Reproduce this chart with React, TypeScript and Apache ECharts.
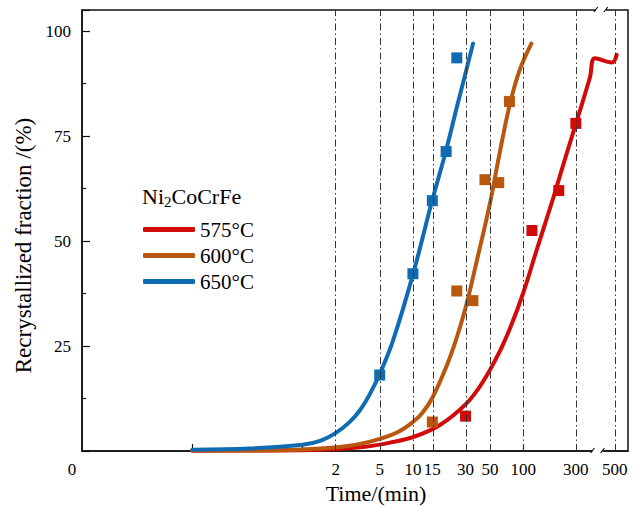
import React, { useEffect, useRef } from 'react';
import * as echarts from 'echarts';

const FONT = '"Liberation Serif", "Times New Roman", serif';

// x axis: log10(time), with an axis break between 455 and 470 min
const U_MIN = -2;
const U_MAX = 2.95;
const BREAK_T = 455;
const BREAK_SHIFT = 0.131;
const toU = (t: number) => (t <= BREAK_T ? Math.log10(t) : Math.log10(t) + BREAK_SHIFT);

const xTickTimes = [2, 5, 10, 15, 30, 50, 100, 300, 500];
const xTickLabels = ['2', '5', '10', '15', '30', '50', '100', '300', '500'];
const decadeTimes = [0.1, 1, 10, 100];

const seriesNames = ['575°C', '600°C', '650°C'];
const colors = ['#D10A0A', '#B9570E', '#0F6CB2'];

// fitted curves (time in min, fraction in %)
const curveT575 = [0.1, 1, 2.05, 3.68, 6.2, 10, 17.6, 30.3, 43.2, 60.7, 78, 99.6, 133, 186, 239, 307, 403, 448, 470, 520];
const curveY575 = [0.05, 0.2, 0.5, 1.0, 2.0, 3.3, 6.2, 11.2, 16.5, 23.5, 30, 37.5, 48, 60, 69.5, 78.7, 89, 93.5, 92.5, 94.3];
const curveT600 = [0.1, 0.62, 2.05, 3.31, 5.03, 7.18, 10, 12.1, 14.9, 20.4, 25.1, 30.3, 38.9, 50, 60.7, 74.8, 92.3, 118.6];
const curveY600 = [0.1, 0.2, 0.9, 1.7, 2.9, 4.4, 6.9, 9.0, 12.5, 20.5, 27.2, 34.5, 46.5, 59, 70.5, 82, 90.5, 97];
const curveT650 = [0.1, 0.333, 1, 1.44, 2.05, 2.69, 3.31, 4.08, 5.03, 6.6, 10, 14.9, 19.95, 25.1, 29.7, 35.1];
const curveY650 = [0.3, 0.6, 1.5, 2.4, 4.5, 7.0, 9.7, 13.6, 18.5, 26.3, 42, 59.5, 71.5, 82, 89.5, 97];

// measured points
const ptsT575 = [30, 120, 210, 300];
const ptsY575 = [8.3, 52.5, 62, 78];
const ptsT600 = [15, 25, 35, 45, 60, 75];
const ptsY600 = [6.9, 38.1, 35.8, 64.6, 63.9, 83.2];
const ptsT650 = [5, 10, 15, 20, 25];
const ptsY650 = [18.1, 42.2, 59.6, 71.3, 93.6];

const curvesT = [curveT575, curveT600, curveT650];
const curvesY = [curveY575, curveY600, curveY650];
const ptsT = [ptsT575, ptsT600, ptsT650];
const ptsY = [ptsY575, ptsY600, ptsY650];

const pair = (ts: number[], ys: number[]) => ts.map((t, i) => [toU(t), ys[i]]);

export default function App() {
  const ref = useRef<HTMLDivElement>(null);

  useEffect(() => {
    document.body.style.margin = '0';
    if (!ref.current) return;
    const chart = echarts.init(ref.current, undefined, { renderer: 'svg' });

    const lineSeries: any[] = seriesNames.map((name, i) => ({
      name,
      type: 'line',
      data: pair(curvesT[i], curvesY[i]),
      smooth: 0.4,
      symbol: 'none',
      showSymbol: false,
      z: 3,
      lineStyle: { color: colors[i], width: 4, cap: 'round', join: 'round' },
      itemStyle: { color: colors[i] },
    }));
    const scatterSeries: any[] = seriesNames.map((name, i) => ({
      name: name + ' data',
      type: 'scatter',
      data: pair(ptsT[i], ptsY[i]),
      symbol: 'rect',
      symbolSize: 11,
      z: 4,
      itemStyle: { color: colors[i], opacity: 1 },
    }));
    const refLines: any = {
      name: 'refLines',
      type: 'line',
      data: [],
      z: 1,
      markLine: {
        silent: true,
        symbol: 'none',
        label: { show: false },
        lineStyle: { color: '#333', width: 1, type: [7, 3, 1.5, 3] },
        data: xTickTimes.map((t) => ({ xAxis: toU(t) })),
      },
    };

    const labelValues = [U_MIN, ...xTickTimes.map(toU)];

    chart.setOption({
      animation: false,
      backgroundColor: '#fff',
      grid: {
        left: 82,
        right: 12,
        top: 10,
        bottom: 55,
        show: true,
        borderColor: '#111',
        borderWidth: 1.5,
        containLabel: false,
        outerBoundsMode: 'none',
      },
      legend: {
        data: seriesNames,
        orient: 'vertical',
        left: 138,
        top: 214,
        icon: 'roundRect',
        itemWidth: 52,
        itemHeight: 5,
        itemGap: 5,
        textStyle: { fontSize: 21, fontFamily: FONT, color: '#000', lineHeight: 21 },
      },
      xAxis: {
        type: 'value',
        min: U_MIN,
        max: U_MAX,
        splitLine: { show: false },
        axisLine: { show: true, onZero: false, lineStyle: { color: '#111', width: 1.5 } },
        axisTick: {
          show: true,
          inside: true,
          length: 7,
          customValues: decadeTimes.map(toU),
          lineStyle: { color: '#111', width: 1.2 },
        },
        axisLabel: {
          customValues: labelValues,
          fontSize: 17,
          fontFamily: FONT,
          color: '#000',
          margin: 10,
          formatter: (v: number) => {
            if (Math.abs(v - U_MIN) < 1e-6) return '{z|0}';
            let best = 0;
            let bd = Infinity;
            xTickTimes.forEach((t, i) => {
              const d = Math.abs(toU(t) - v);
              if (d < bd) {
                bd = d;
                best = i;
              }
            });
            return xTickLabels[best];
          },
          rich: {
            z: { fontSize: 17, fontFamily: FONT, color: '#000', padding: [0, 20, 0, 0] },
          },
        },
        name: 'Time/(min)',
        nameLocation: 'middle',
        nameGap: 31,
        nameTextStyle: { fontSize: 22, fontFamily: FONT, color: '#000', padding: [0, 0, 0, 42] },
      },
      yAxis: {
        type: 'value',
        min: 0,
        max: 105,
        interval: 25,
        splitLine: { show: false },
        axisLine: { show: true, onZero: false, lineStyle: { color: '#111', width: 1.5 } },
        axisTick: { show: true, inside: true, length: 8, lineStyle: { color: '#111', width: 1.2 } },
        minorTick: { show: true, splitNumber: 2, length: 4, lineStyle: { color: '#111', width: 1.2 } },
        axisLabel: {
          fontSize: 17,
          fontFamily: FONT,
          color: '#000',
          margin: 11,
          formatter: (v: number) => (v > 0 && v <= 100 && v % 25 === 0 ? String(v) : ''),
        },
        name: 'Recrystallized fraction /(%)',
        nameLocation: 'middle',
        nameGap: 37,
        nameTextStyle: { fontSize: 23, fontFamily: FONT, color: '#000', padding: [0, 30, 0, 0] },
      },
      series: [refLines, ...lineSeries, ...scatterSeries],
    });

    // legend title and axis-break marks
    const pTop = chart.convertToPixel({ gridIndex: 0 }, [toU(BREAK_T) + BREAK_SHIFT / 2 - 0.02, 105]) as number[];
    const pBot = chart.convertToPixel({ gridIndex: 0 }, [toU(BREAK_T) + BREAK_SHIFT / 2 - 0.05, 0]) as number[];
    const breakMark = (x: number, y: number) => [
      { type: 'rect', shape: { x: x - 5, y: y - 3, width: 10, height: 6 }, style: { fill: '#fff' }, z: 100 },
      { type: 'line', shape: { x1: x - 7, y1: y + 2, x2: x - 3, y2: y - 3 }, style: { stroke: '#111', lineWidth: 1.2 }, z: 101 },
      { type: 'line', shape: { x1: x + 3, y1: y + 2, x2: x + 7, y2: y - 3 }, style: { stroke: '#111', lineWidth: 1.2 }, z: 101 },
    ];
    chart.setOption({
      graphic: [
        {
          type: 'text',
          left: 142,
          top: 184,
          style: {
            text: '{m|Ni}{s|2}{m|CoCrFe}',
            rich: {
              m: { fontSize: 22, fontFamily: FONT, fill: '#000', lineHeight: 24 },
              s: { fontSize: 15, fontFamily: FONT, fill: '#000', lineHeight: 14, padding: [10, 0, 0, 0] },
            },
          },
        },
        ...breakMark(pTop[0], pTop[1]),
        ...breakMark(pBot[0], pBot[1]),
      ],
    });

    return () => chart.dispose();
  }, []);

  return <div ref={ref} style={{ width: 640, height: 506 }} />;
}
